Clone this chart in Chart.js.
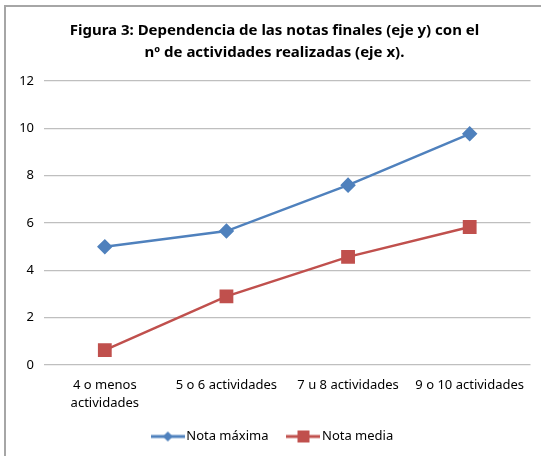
<!DOCTYPE html>
<html>
<head>
<meta charset="utf-8">
<script src="https://cdn.jsdelivr.net/npm/chart.js@4"></script>
<style>
  html, body { margin: 0; padding: 0; background: #fff; }
  #wrap { position: relative; width: 541px; height: 456px; }
  #frame { position: absolute; left: 4px; top: 5px; right: -2px; bottom: -2px;
           border-top: 2px solid #a6a6a6; border-left: 2px solid #a6a6a6; pointer-events: none; }
</style>
</head>
<body>
<div id="wrap">
  <canvas id="mainChart" width="541" height="456"></canvas>
  <div id="frame"></div>
</div>
<script>
// datos
const categorias = [['4 o menos', 'actividades'], '5 o 6 actividades', '7 u 8 actividades', '9 o 10 actividades'];
const notaMaxima = [5.0, 5.66, 7.6, 9.77];
const notaMedia = [0.63, 2.9, 4.57, 5.83];
const ticksY = [0, 2, 4, 6, 8, 10, 12];

const azul = '#4f81bd';
const rojo = '#c0504d';
const fuente = "'Noto Sans', sans-serif";

// icono de leyenda: linea con marcador
function iconoLeyenda(color, forma) {
  const c = document.createElement('canvas');
  c.width = 34; c.height = 14;
  const g = c.getContext('2d');
  g.strokeStyle = color; g.lineWidth = 3;
  g.beginPath(); g.moveTo(0, 7); g.lineTo(34, 7); g.stroke();
  g.fillStyle = color;
  g.beginPath();
  if (forma === 'diamante') {
    g.moveTo(17, 2); g.lineTo(22, 7); g.lineTo(17, 12); g.lineTo(12, 7);
  } else {
    g.rect(11, 1, 12, 12);
  }
  g.closePath(); g.fill();
  return c;
}

const ctx = document.getElementById('mainChart').getContext('2d');
new Chart(ctx, {
  type: 'line',
  data: {
    labels: categorias,
    datasets: [
      { label: 'Nota máxima', data: notaMaxima, borderColor: azul, backgroundColor: azul,
        borderWidth: 2.5, pointStyle: 'rectRot', pointRadius: 6, pointHoverRadius: 6, tension: 0 },
      { label: 'Nota media', data: notaMedia, borderColor: rojo, backgroundColor: rojo,
        borderWidth: 2.5, pointStyle: 'rect', pointRadius: 8, pointHoverRadius: 8, tension: 0 }
    ]
  },
  options: {
    responsive: false,
    animation: false,
    layout: { padding: { left: 18, right: 10, top: 0, bottom: 3 } },
    plugins: {
      title: {
        display: true,
        text: ['Figura 3: Dependencia de las notas finales (eje y) con el', 'nº de actividades realizadas (eje x).'],
        color: '#000',
        font: { family: fuente, size: 15, weight: 'bold', lineHeight: 1.5 },
        padding: { top: 19, bottom: 17 }
      },
      legend: {
        position: 'bottom',
        labels: {
          color: '#000',
          font: { family: fuente, size: 13 },
          usePointStyle: true,
          boxHeight: 14,
          pointStyleWidth: 24,
          padding: 23,
          generateLabels: function (chart) {
            return chart.data.datasets.map((ds, i) => ({
              text: ds.label,
              fillStyle: ds.borderColor,
              strokeStyle: ds.borderColor,
              pointStyle: iconoLeyenda(ds.borderColor, i === 0 ? 'diamante' : 'cuadro'),
              datasetIndex: i,
              fontColor: '#000'
            }));
          }
        }
      },
      tooltip: { enabled: false }
    },
    scales: {
      x: {
        offset: true,
        grid: { display: false },
        border: { display: false },
        ticks: { color: '#000', font: { family: fuente, size: 13, lineHeight: 1.35 }, maxRotation: 0, autoSkip: false, padding: 4 },
        afterFit: function (s) { s.height = 42; }
      },
      y: {
        min: 0, max: 12,
        afterBuildTicks: function (s) { s.ticks = ticksY.map(v => ({ value: v })); },
        grid: { color: '#bfbfbf', lineWidth: 1.3, drawTicks: false },
        border: { display: false },
        ticks: { color: '#000', font: { family: fuente, size: 13 }, padding: 10 },
        afterFit: function (s) { s.width = 26; }
      }
    }
  }
});
</script>
</body>
</html>
